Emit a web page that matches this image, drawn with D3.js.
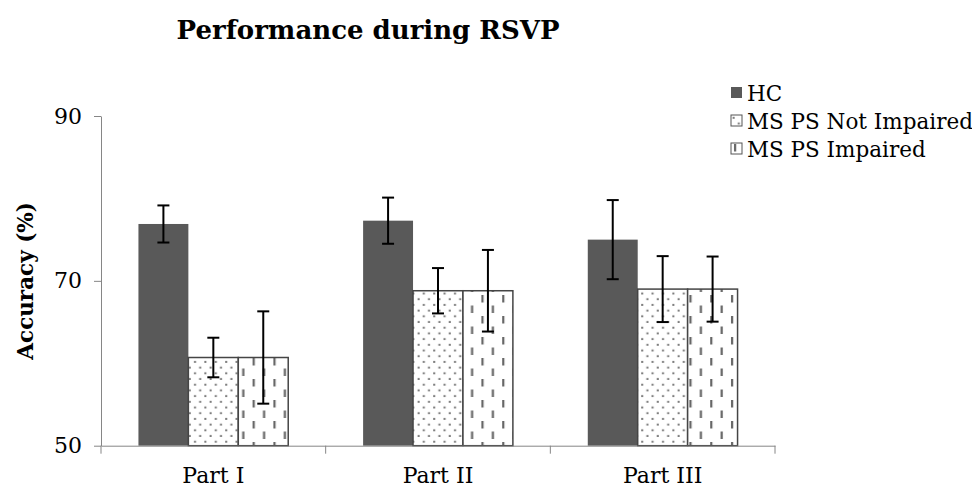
<!DOCTYPE html>
<html>
<head>
<meta charset="utf-8">
<script src="https://cdn.jsdelivr.net/npm/d3@7"></script>
<style>
  body { margin: 0; background: #fff; }
  svg text { font-family: "DejaVu Serif", serif; fill: #000; }
</style>
</head>
<body>
<svg id="chart" width="972" height="492"></svg>
<script>
"use strict";

// values
const categories = ["Part I", "Part II", "Part III"];
const seriesNames = ["HC", "MS PS Not Impaired", "MS PS Impaired"];
const hcValues = [76.9, 77.3, 75.0];
const hcErrors = [2.25, 2.8, 4.8];
const msNotValues = [60.7, 68.8, 69.0];
const msNotErrors = [2.4, 2.75, 4.0];
const msImpValues = [60.7, 68.8, 69.0];
const msImpErrors = [5.6, 4.95, 3.95];
const yTicks = [50, 70, 90];

const svg = d3.select("#chart");

const plotLeft = 101, plotRight = 775, plotTop = 116, plotBottom = 445.7;

/* patterns for the two MS series */
const defs = svg.append("defs");

const dots = defs.append("pattern")
  .attr("id", "dots")
  .attr("patternUnits", "userSpaceOnUse")
  .attr("width", 10.4).attr("height", 11.4);
dots.append("rect").attr("width", 10.4).attr("height", 11.4).attr("fill", "#fff");
[[2.6, 2.8], [7.8, 8.5]].forEach(p => {
  dots.append("rect")
    .attr("x", p[0] - 1).attr("y", p[1] - 1)
    .attr("width", 2).attr("height", 2)
    .attr("fill", "#7a7a7a");
});

const dashes = defs.append("pattern")
  .attr("id", "dashes")
  .attr("patternUnits", "userSpaceOnUse")
  .attr("width", 20.8).attr("height", 21);
dashes.append("rect").attr("width", 20.8).attr("height", 21).attr("fill", "#fff");
[[3, 1], [13.4, 11.5]].forEach(p => {
  dashes.append("rect")
    .attr("x", p[0]).attr("y", p[1])
    .attr("width", 2.2).attr("height", 7.5)
    .attr("fill", "#666");
});

const series = [
  { name: seriesNames[0], values: hcValues, errors: hcErrors, fill: "#595959", stroke: "none" },
  { name: seriesNames[1], values: msNotValues, errors: msNotErrors, fill: "url(#dots)", stroke: "#454545" },
  { name: seriesNames[2], values: msImpValues, errors: msImpErrors, fill: "url(#dashes)", stroke: "#454545" }
];

const x = d3.scaleBand()
  .domain(categories)
  .range([plotLeft, plotRight])
  .paddingInner(0).paddingOuter(0);

const xInner = d3.scaleBand()
  .domain(seriesNames)
  .range([0, x.bandwidth()])
  .paddingInner(0).paddingOuter(0.75);

const y = d3.scaleLinear()
  .domain([50, 90])
  .range([plotBottom, plotTop]);

/* bars */
const groups = svg.append("g").selectAll("g")
  .data(series)
  .join("g");

groups.selectAll("rect")
  .data(s => categories.map((c, i) => ({ c, v: s.values[i], e: s.errors[i], s })))
  .join("rect")
  .attr("x", d => x(d.c) + xInner(d.s.name))
  .attr("y", d => y(d.v))
  .attr("width", xInner.bandwidth())
  .attr("height", d => y(50) - y(d.v))
  .attr("fill", d => d.s.fill)
  .attr("stroke", d => d.s.stroke)
  .attr("stroke-width", 1.5);

/* error bars */
const errs = svg.append("g")
  .attr("stroke", "#000")
  .attr("stroke-width", 2);

series.forEach(s => {
  categories.forEach((c, i) => {
    const cx = x(c) + xInner(s.name) + xInner.bandwidth() / 2;
    const y1 = y(s.values[i] + s.errors[i]);
    const y2 = y(s.values[i] - s.errors[i]);
    errs.append("line").attr("x1", cx).attr("x2", cx).attr("y1", y1).attr("y2", y2);
    errs.append("line").attr("x1", cx - 6).attr("x2", cx + 6).attr("y1", y1).attr("y2", y1);
    errs.append("line").attr("x1", cx - 6).attr("x2", cx + 6).attr("y1", y2).attr("y2", y2);
  });
});

/* y axis */
const yAxis = svg.append("g")
  .attr("transform", `translate(${plotLeft},0)`)
  .call(d3.axisLeft(y).tickValues(yTicks).tickSize(7).tickPadding(12).tickSizeOuter(0));
yAxis.select(".domain").attr("stroke", "#868686");
yAxis.selectAll(".tick line").attr("stroke", "#868686");
yAxis.selectAll(".tick text")
  .attr("font-size", 22)
  .attr("font-family", "DejaVu Serif");

/* x axis: labels centred, ticks on category boundaries */
const xAxis = svg.append("g")
  .attr("transform", `translate(0,${plotBottom})`)
  .call(d3.axisBottom(x).tickSize(0).tickPadding(22).tickSizeOuter(0));
xAxis.select(".domain").attr("stroke", "#868686");
xAxis.selectAll(".tick text")
  .attr("font-size", 22)
  .attr("font-family", "DejaVu Serif");

const bounds = categories.map(c => x(c)).concat([x(categories[categories.length - 1]) + x.bandwidth()]);
xAxis.selectAll(".bound")
  .data(bounds)
  .join("line")
  .attr("class", "bound")
  .attr("x1", d => d).attr("x2", d => d)
  .attr("y1", 0).attr("y2", 8)
  .attr("stroke", "#868686");

/* titles */
svg.append("text")
  .attr("x", 368)
  .attr("y", 39)
  .attr("text-anchor", "middle")
  .attr("font-size", 26)
  .attr("font-weight", "bold")
  .text("Performance during RSVP");

svg.append("text")
  .attr("transform", `translate(33,${(plotTop + plotBottom) / 2}) rotate(-90)`)
  .attr("text-anchor", "middle")
  .attr("font-size", 21.5)
  .attr("font-weight", "bold")
  .text("Accuracy (%)");

/* legend */
const legend = svg.append("g").attr("transform", "translate(731,87)");
series.forEach((s, i) => {
  const row = legend.append("g").attr("transform", `translate(0,${i * 28})`);
  row.append("rect")
    .attr("width", 11).attr("height", 11)
    .attr("fill", s.fill)
    .attr("stroke", i === 0 ? "none" : "#555")
    .attr("stroke-width", 1);
  row.append("text")
    .attr("x", 16)
    .attr("y", 13.5)
    .attr("font-size", 21.5)
    .text(s.name);
});
</script>
</body>
</html>
